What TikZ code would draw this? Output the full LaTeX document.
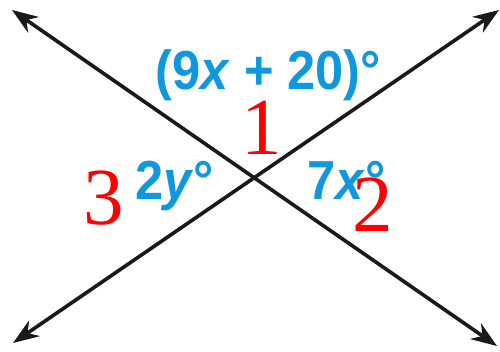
\documentclass[tikz,border=0pt]{standalone}
\usepackage{fontspec}
\newfontfamily\lblfont{Liberation Sans}
\newfontfamily\numfont{Liberation Serif}
\usetikzlibrary{arrows.meta}
\definecolor{lblblue}{RGB}{16,152,222}
\definecolor{numred}{RGB}{255,0,0}
\tikzset{
  line/.style={line width=3.6pt, black!90, {Stealth[length=26pt,width=19pt]}-{Stealth[length=26pt,width=19pt]}},
  anglbl/.style={text=lblblue, font=\lblfont\bfseries\fontsize{55}{60}\selectfont, inner sep=0pt, anchor=base west, xscale=0.92, transform shape},
  numlbl/.style={text=numred, font=\numfont\fontsize{81}{90}\selectfont, inner sep=0pt, anchor=base}
}
\begin{document}
\begin{tikzpicture}[x=1pt,y=-1pt]
\useasboundingbox (0,0) rectangle (500,352);
\coordinate (tl) at (12,10);
\coordinate (br) at (497,346);
\coordinate (bl) at (13,343);
\coordinate (tr) at (499,10);
\draw[line] (tl) -- (br);
\draw[line] (bl) -- (tr);
\node[anglbl] (top) at (155,90) {(9\textit{x} + 20)°};
\node[anglbl] (left) at (135,200) {2\textit{y}°};
\node[anglbl] (right) at (307,200) {7\textit{x}°};
\node[numlbl] (n1) at (262,155) {1};
\node[numlbl] (n3) at (104,225) {3};
\node[numlbl] (n2) at (373,232) {2};
\end{tikzpicture}
\end{document}
